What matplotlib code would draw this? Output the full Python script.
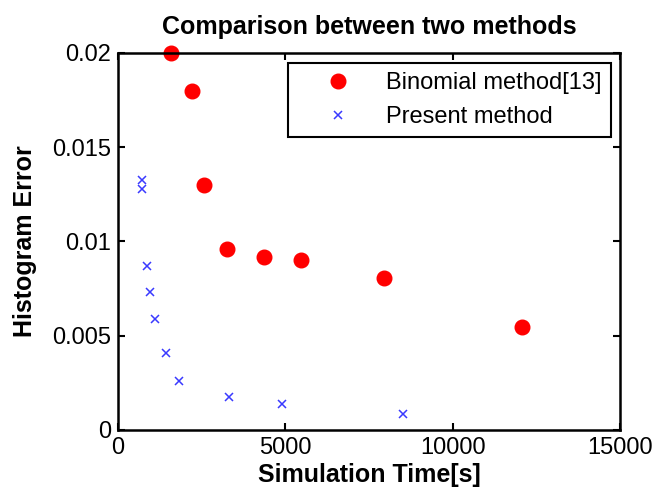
import matplotlib
matplotlib.use("Agg")
import matplotlib.pyplot as plt

plt.rcParams['font.family'] = ['Liberation Sans', 'DejaVu Sans']

# binomial method [13]
binom_time = [1584, 2200, 2560, 3257, 4353, 5460, 7963, 12080]
binom_err = [0.0200, 0.0180, 0.0130, 0.0096, 0.00917, 0.00902, 0.00808, 0.00545]

# present method
present_time = [727, 727, 870, 970, 1120, 1440, 1835, 3316, 4894, 8528]
present_err = [0.01324, 0.01280, 0.00868, 0.00732, 0.00587, 0.00408, 0.00262, 0.00177, 0.00137, 0.00087]

xticks = [0, 5000, 10000, 15000]
yticks = [0, 0.005, 0.01, 0.015, 0.02]

fig = plt.figure(figsize=(6.57, 4.93), dpi=100)
ax = fig.add_axes([0.1796, 0.1278, 0.9437 - 0.1796, 0.8925 - 0.1278])

ax.plot(binom_time, binom_err, 'o', color='#ff0000', markersize=10.5,
        label='Binomial method[13]', clip_on=False)
ax.plot(present_time, present_err, 'x', color='#3a3aff', markersize=6,
        markeredgewidth=1.1, label='Present method', clip_on=False)

ax.set_xlim(0, 15000)
ax.set_ylim(0, 0.02)
ax.set_xticks(xticks)
ax.set_xticklabels([str(t) for t in xticks])
ax.set_yticks(yticks)
ax.set_yticklabels(['0', '0.005', '0.01', '0.015', '0.02'])
ax.tick_params(direction='in', top=True, right=True, length=5, width=1.5,
               labelsize=17, pad=5)
for s in ax.spines.values():
    s.set_linewidth(1.8)

ax.set_title('Comparison between two methods', fontsize=18, fontweight='bold', pad=14)
ax.set_xlabel('Simulation Time[s]', fontsize=18, fontweight='bold', labelpad=3)
ax.set_ylabel('Histogram Error', fontsize=18, fontweight='bold', labelpad=11)

leg = ax.legend(loc='upper right', fontsize=17, fancybox=False, framealpha=1,
                edgecolor='black', borderpad=0.4, labelspacing=0.48,
                handlelength=3.4, handletextpad=0.35,
                bbox_to_anchor=(0.982, 0.9735), borderaxespad=0)
leg.get_frame().set_linewidth(1.5)

fig.savefig('out.png', dpi=100)
